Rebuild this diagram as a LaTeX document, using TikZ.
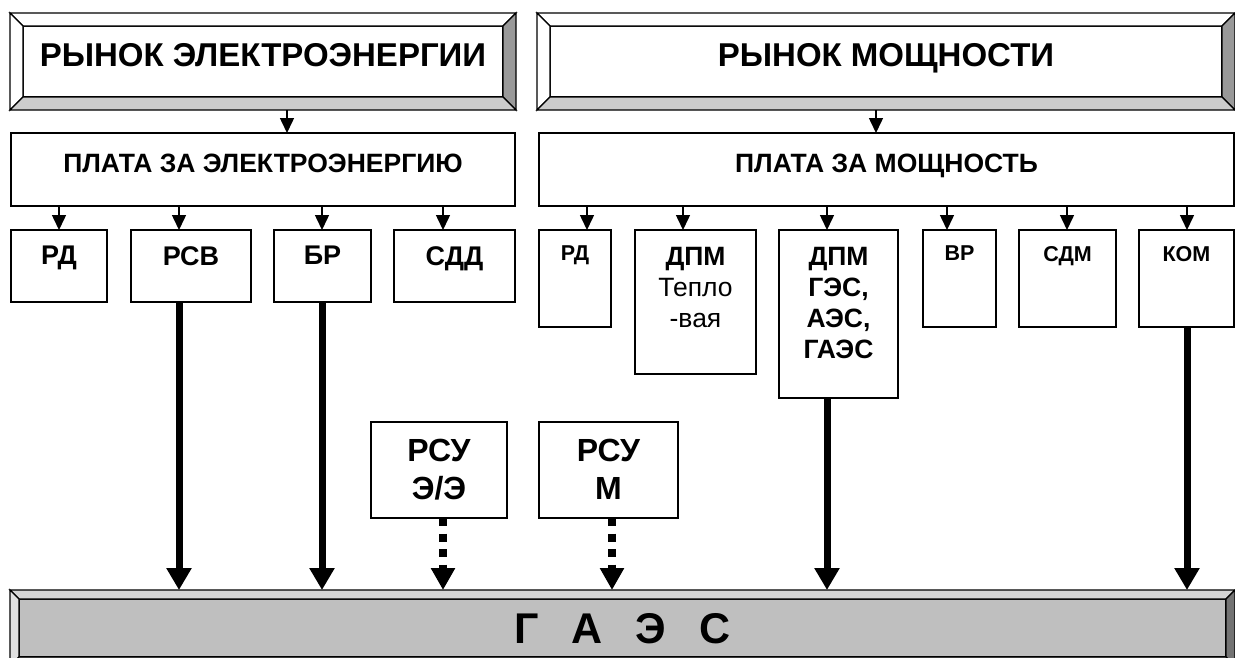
\documentclass[tikz,border=0pt]{standalone}
\usepackage{fontspec}
\setmainfont{Liberation Sans}
\usetikzlibrary{arrows.meta}

% цвета рамок: w = белая, g = серая
\colorlet{wface}{white}\colorlet{wtop}{white}\colorlet{wleft}{white}
\colorlet{wright}{black!40}\colorlet{wbot}{black!20}
\colorlet{gface}{black!25}\colorlet{gtop}{black!17}\colorlet{gleft}{black!12}
\colorlet{gright}{black!55}\colorlet{gbot}{black!35}

\newcommand{\fsz}[1]{\fontsize{#1}{#1}\selectfont}
% объёмная рамка: x1 y1 x2 y2 фаска цвет
\newcommand{\bevelbox}[6]{%
  \filldraw[fill=#6face, draw=black, line width=1.3pt] (#1+#5,#2+#5) rectangle (#3-#5,#4-#5);
  \filldraw[fill=#6top, draw=black, line width=1.3pt] (#1,#2) -- (#3,#2) -- (#3-#5,#2+#5) -- (#1+#5,#2+#5) -- cycle;
  \filldraw[fill=#6left, draw=black, line width=1.3pt] (#1,#2) -- (#1+#5,#2+#5) -- (#1+#5,#4-#5) -- (#1,#4) -- cycle;
  \filldraw[fill=#6right, draw=black, line width=1.3pt] (#3,#2) -- (#3,#4) -- (#3-#5,#4-#5) -- (#3-#5,#2+#5) -- cycle;
  \filldraw[fill=#6bot, draw=black, line width=1.3pt] (#1,#4) -- (#3,#4) -- (#3-#5,#4-#5) -- (#1+#5,#4-#5) -- cycle;
}

\begin{document}
\begin{tikzpicture}[x=1pt, y=-1pt, >={Triangle[width=14pt,length=15pt]},
    box/.style={draw, line width=1.6pt, fill=white, inner sep=0pt, outer sep=0pt, anchor=north west},
    hit/.style={inner sep=0pt, outer sep=0pt},
    lbl/.style={anchor=north, inner sep=0pt, align=center},
    feed/.style={->, line width=1.5pt},
    fat/.style={-{Triangle[width=24pt,length=22pt]}, line width=7pt},
    dotarrow/.style={-{Triangle[width=23pt,length=22pt]}, line width=8pt, dash pattern=on 8pt off 7.5pt}]
  \useasboundingbox (0,0) rectangle (1235,657);

  % рынки
  \bevelbox{10}{13}{516}{110}{13}{w}
  \bevelbox{537}{13}{1235}{110}{13}{w}
  \node[hit, minimum width=506pt, minimum height=97pt] (mkE) at (263,61.5) {};
  \node[hit, minimum width=698pt, minimum height=97pt] (mkM) at (886,61.5) {};
  \node[lbl, font=\bfseries\fsz{33}] (mkEt) at ([yshift=-30pt]mkE.north) {РЫНОК ЭЛЕКТРОЭНЕРГИИ};
  \node[lbl, font=\bfseries\fsz{33}] (mkMt) at ([yshift=-30pt]mkM.north) {РЫНОК МОЩНОСТИ};

  % платежи
  \node[box, minimum width=504pt, minimum height=73pt] (plE) at (11,133) {};
  \node[box, minimum width=695pt, minimum height=73pt] (plM) at (539,133) {};
  \node[lbl, font=\bfseries\fsz{26.5}] (plEt) at ([yshift=-21pt]plE.north) {ПЛАТА ЗА ЭЛЕКТРОЭНЕРГИЮ};
  \node[lbl, font=\bfseries\fsz{26.5}] (plMt) at ([yshift=-21pt]plM.north) {ПЛАТА ЗА МОЩНОСТЬ};
  \coordinate (cE) at (287,0);
  \coordinate (cM) at (876,0);
  \draw[feed] (mkE.south -| cE) -- (plE.north -| cE);
  \draw[feed] (mkM.south -| cM) -- (plM.north -| cM);

  % сегменты рынка электроэнергии
  \node[box, minimum width=96pt, minimum height=72pt] (rdE) at (11,230) {};
  \node[box, minimum width=120pt, minimum height=72pt] (rsv) at (131,230) {};
  \node[box, minimum width=97pt, minimum height=72pt] (br) at (274,230) {};
  \node[box, minimum width=121pt, minimum height=72pt] (sdd) at (394,230) {};
  \foreach \b/\t in {rdE/РД, rsv/РСВ, br/БР, sdd/СДД}
    \node[lbl, font=\bfseries\fsz{27}] (\b t) at ([yshift=-16pt]\b.north) {\t};

  % сегменты рынка мощности
  \node[box, minimum width=72pt, minimum height=97pt] (rdM) at (539,230) {};
  \node[box, minimum width=121pt, minimum height=144pt] (dpmT) at (635,230) {};
  \node[box, minimum width=119pt, minimum height=168pt] (dpmG) at (779,230) {};
  \node[box, minimum width=73pt, minimum height=97pt] (vr) at (923,230) {};
  \node[box, minimum width=97pt, minimum height=97pt] (sdm) at (1019,230) {};
  \node[box, minimum width=95pt, minimum height=97pt] (kom) at (1139,230) {};
  \foreach \b/\t in {rdM/РД, vr/ВР, sdm/СДМ, kom/КОМ}
    \node[lbl, font=\bfseries\fsz{21.5}] (\b t) at ([yshift=-16pt]\b.north) {\t};
  \node[lbl, font=\bfseries\fontsize{26.5}{31}\selectfont] (dpmTt) at ([yshift=-17pt]dpmT.north)
    {ДПМ\\{\mdseries Тепло}\\{\mdseries -вая}};
  \node[lbl, font=\bfseries\fontsize{26.5}{31}\selectfont] (dpmGt) at ([yshift=-17pt]dpmG.north)
    {ДПМ\\ГЭС,\\АЭС,\\ГАЭС};

  \foreach \p/\b/\x in {plE/rdE/59, plE/rsv/179, plE/br/322, plE/sdd/443,
      plM/rdM/587, plM/dpmT/683, plM/dpmG/827, plM/vr/947, plM/sdm/1067, plM/kom/1187}
    \draw[feed] (\p.south -| \x,0) -- (\b.north -| \x,0);

  % РСУ
  \node[box, minimum width=136pt, minimum height=96pt] (rsuE) at (371,422) {};
  \node[box, minimum width=139pt, minimum height=96pt] (rsuM) at (539,422) {};
  \node[lbl, font=\bfseries\fontsize{32}{38}\selectfont] (rsuEt) at ([yshift=-17pt]rsuE.north) {РСУ\\Э/Э};
  \node[lbl, font=\bfseries\fontsize{32}{38}\selectfont] (rsuMt) at ([yshift=-17pt]rsuM.north) {РСУ\\М};

  % ГАЭС
  \bevelbox{10}{590}{1235}{666}{9}{g}
  \node[hit, minimum width=1225pt, minimum height=76pt] (gaes) at (622.5,628) {};
  \node[lbl, font=\bfseries\fsz{43}] (gaest) at ([yshift=-23pt]gaes.north)
    {Г\hspace{33pt}А\hspace{33pt}Э\hspace{33pt}С};

  \foreach \b/\x in {rsv/179, br/322, dpmG/827, kom/1187}
    \draw[fat] (\b.south -| \x,0) -- (gaes.north -| \x,0);
  \foreach \b/\x in {rsuE/443, rsuM/612}
    \draw[dotarrow] (\b.south -| \x,0) -- (gaes.north -| \x,0);
\end{tikzpicture}
\end{document}
